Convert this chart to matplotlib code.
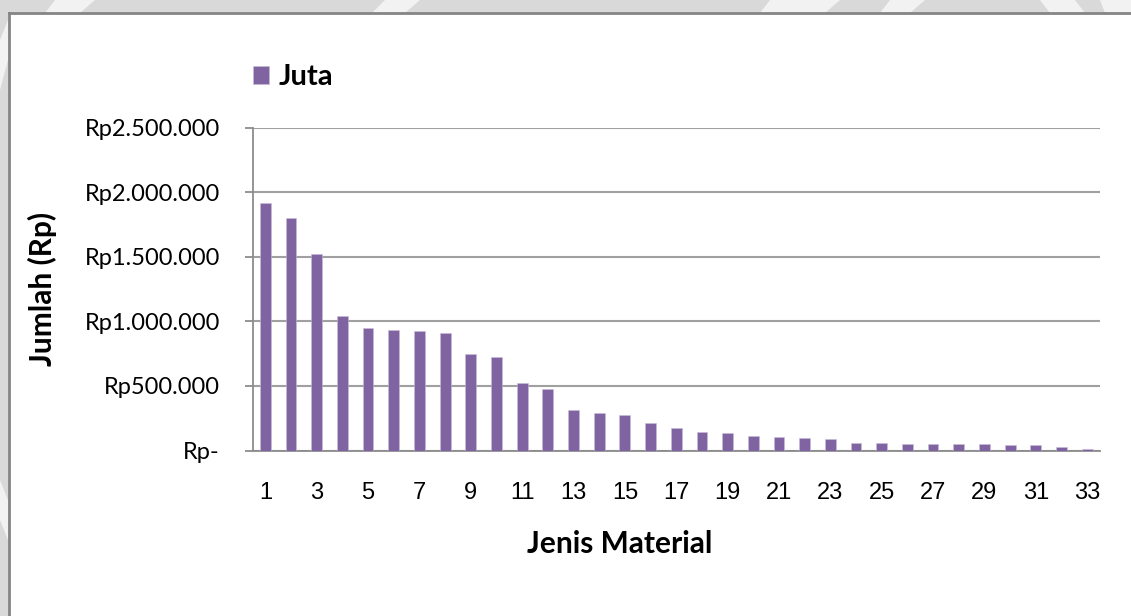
import matplotlib
matplotlib.use("Agg")
import matplotlib.pyplot as plt
from matplotlib.patches import Rectangle, Polygon
from matplotlib.ticker import FuncFormatter, FixedLocator

# Material cost per item (Rp), sorted descending
materials = list(range(1, 34))
amounts = [1919000, 1798000, 1519000, 1041000, 945000, 932000, 924000, 911000,
           749000, 725000, 524000, 477000, 312000, 291000, 273000, 216000,
           172000, 144000, 139000, 116000, 105000, 98000, 90000, 59000,
           59000, 54000, 49000, 49000, 49000, 41000, 41000, 28000, 10000]
y_ticks = [0, 500000, 1000000, 1500000, 2000000, 2500000]
x_tick_labels = list(range(1, 34, 2))

series_name = "Juta"
bar_color = "#8064A2"
grid_color = "#a0a0a0"

W, H = 1131, 616
fig = plt.figure(figsize=(W / 100, H / 100), dpi=100, facecolor="#d9d9d9")

def fx(px):
    return px / W

def fy(py):
    return 1 - py / H

# light decorative stripes in the outer margin
for pts in [
    [(55, 0), (95, 0), (80, 13), (45, 13)],
    [(385, 0), (420, 0), (405, 13), (372, 13)],
    [(770, 0), (840, 0), (825, 13), (760, 13)],
    [(890, 0), (925, 0), (910, 13), (880, 13)],
    [(1040, 0), (1075, 0), (1085, 13), (1050, 13)],
    [(1100, 0), (1131, 0), (1131, 13), (1105, 13)],
    [(0, 40), (8, 20), (8, 60), (0, 90)],
    [(0, 480), (8, 500), (8, 540), (0, 520)],
]:
    fig.patches.append(Polygon([(fx(a), fy(b)) for a, b in pts], closed=True,
                               transform=fig.transFigure, facecolor="#f2f2f2",
                               edgecolor="none", zorder=0))

# white chart area with grey frame on top and left
fig.patches.append(Rectangle((fx(9), 0), 1 - fx(9), fy(13), transform=fig.transFigure,
                             facecolor="white", edgecolor="none", zorder=1))
fig.lines.append(plt.Line2D([fx(8.5), fx(8.5)], [0, fy(12.5)], transform=fig.transFigure,
                            color="#858585", linewidth=2, zorder=2))
fig.lines.append(plt.Line2D([fx(8.5), 1], [fy(12.5), fy(12.5)], transform=fig.transFigure,
                            color="#858585", linewidth=2, zorder=2))

ax = fig.add_axes([fx(252.5), fy(450.5), fx(1100) - fx(252.5), fy(127.7) - fy(450.5)])
ax.set_facecolor("none")
ax.set_zorder(3)

ax.bar(materials, amounts, width=0.42, color=bar_color, edgecolor="#c9bddb",
       linewidth=0.4, zorder=3, label=series_name)

ax.set_xlim(0.5, 33.5)
ax.set_ylim(0, 2500000)

ax.yaxis.set_major_locator(FixedLocator(y_ticks))

def rp(v, pos):
    if v == 0:
        return "Rp-"
    return "Rp" + f"{int(v):,}".replace(",", ".")

ax.yaxis.set_major_formatter(FuncFormatter(rp))
ax.set_xticks(x_tick_labels)
ax.set_xticklabels([str(v) for v in x_tick_labels])

ax.grid(axis="y", color=grid_color, linewidth=1.5, zorder=1)
ax.set_axisbelow(True)

for side in ["top", "right"]:
    ax.spines[side].set_visible(False)
ax.spines["left"].set_color("#8c8c8c")
ax.spines["left"].set_linewidth(1.3)
ax.spines["bottom"].set_color("#8c8c8c")
ax.spines["bottom"].set_linewidth(1.3)

ax.tick_params(axis="y", direction="out", length=6, width=1.3, color="#8c8c8c",
               pad=17.5, labelsize=17, labelcolor="black")
for lbl in ax.get_yticklabels():
    lbl.set_fontfamily("Lato")
ax.tick_params(axis="x", length=0, pad=23, labelsize=17, labelcolor="black")
for lbl in ax.get_xticklabels():
    lbl.set_fontfamily("Liberation Sans")

fig.text(fx(42), fy(289), "Jumlah (Rp)", rotation=90, ha="center", va="center",
         fontsize=21.5, fontweight="bold", family="Lato")
fig.text(fx(620), fy(544), "Jenis Material", ha="center", va="center",
         fontsize=21.5, fontweight="bold", family="Lato")

leg = ax.legend(loc="center left", bbox_to_anchor=(fx(252.5), fy(77)),
                bbox_transform=fig.transFigure, frameon=False,
                handlelength=0.58, handleheight=0.58, handletextpad=0.3,
                borderpad=0, borderaxespad=0,
                prop={"family": "Lato", "weight": "bold", "size": 21})

fig.savefig("out.png", dpi=100, facecolor=fig.get_facecolor())
